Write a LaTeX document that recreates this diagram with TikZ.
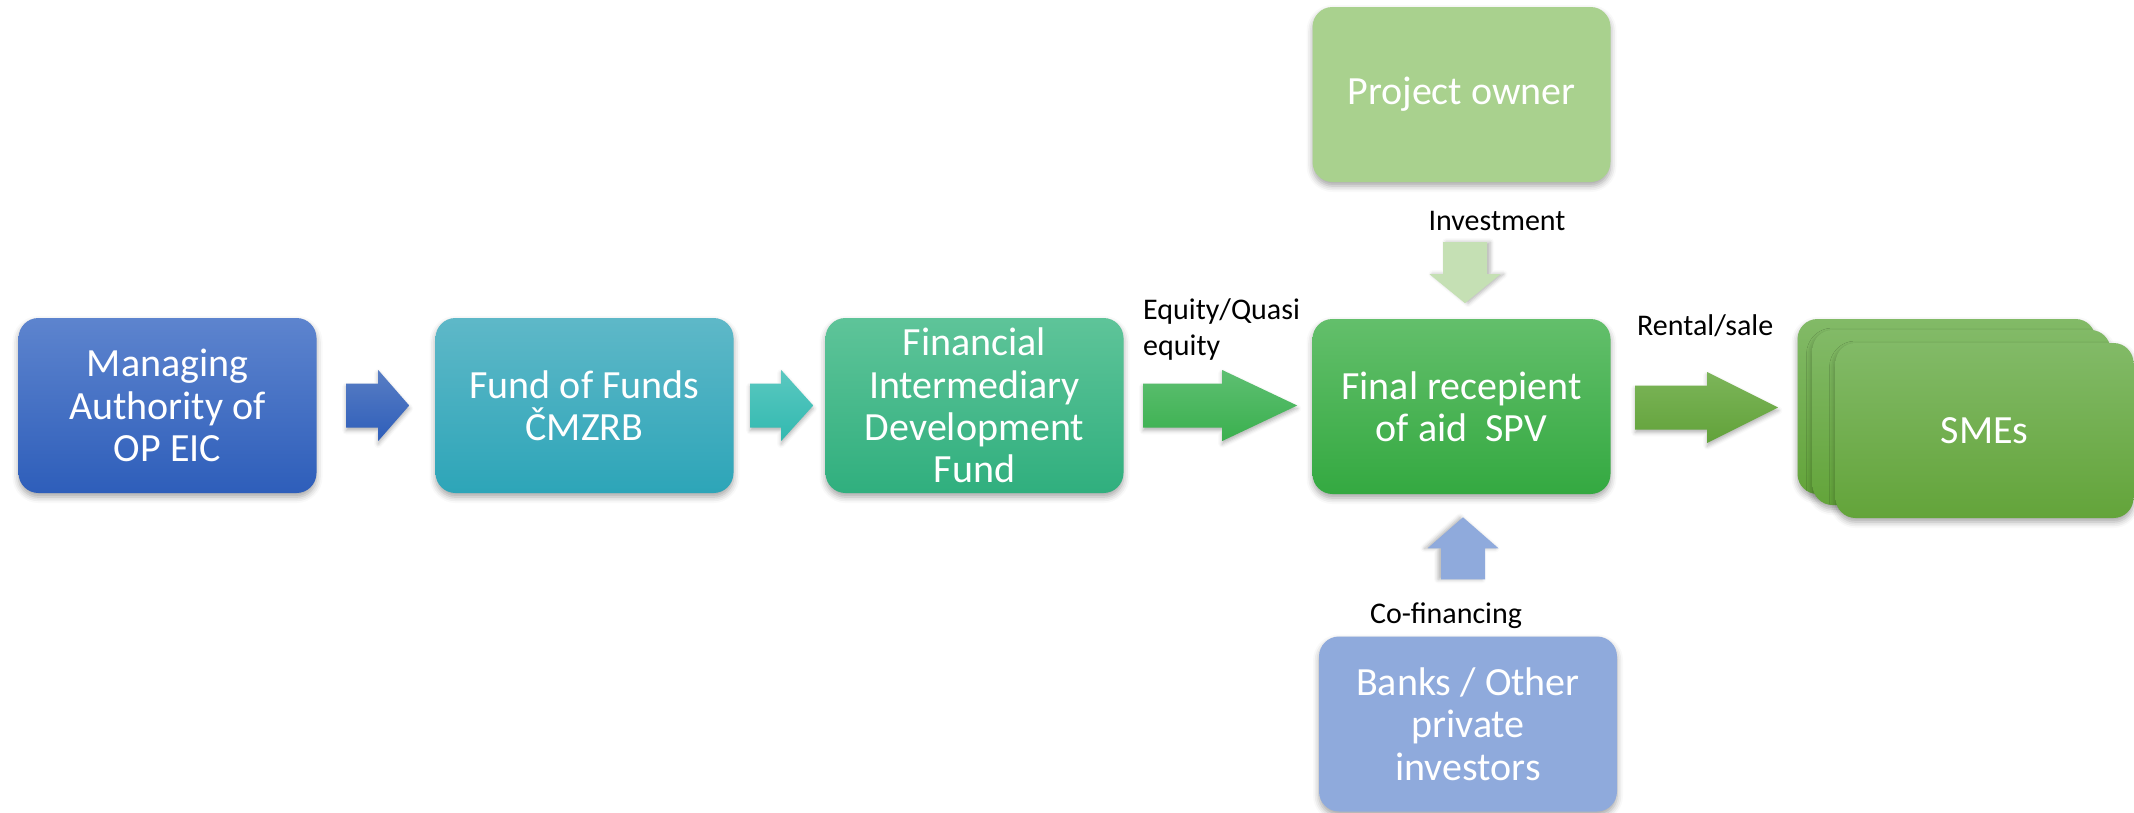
\documentclass[tikz,border=0pt]{standalone}
\usepackage{fontspec}
\setmainfont{Carlito}
\usetikzlibrary{calc,shadows.blur}

\definecolor{maoTop}{RGB}{93,132,206}
\definecolor{maoBot}{RGB}{46,94,186}
\definecolor{fofTop}{RGB}{94,184,200}
\definecolor{fofBot}{RGB}{45,165,184}
\definecolor{fidTop}{RGB}{94,196,153}
\definecolor{fidBot}{RGB}{48,175,126}
\definecolor{frTop}{RGB}{99,191,107}
\definecolor{frBot}{RGB}{52,169,65}
\definecolor{smeTop}{RGB}{130,186,103}
\definecolor{smeBot}{RGB}{99,164,58}
\definecolor{ownerFill}{RGB}{169,209,142}
\definecolor{investFill}{RGB}{197,224,180}
\definecolor{bankFill}{RGB}{143,170,220}
\definecolor{tealTop}{RGB}{90,200,192}
\definecolor{tealBot}{RGB}{50,185,176}
\definecolor{eqTop}{RGB}{94,191,114}
\definecolor{eqBot}{RGB}{58,176,78}
\definecolor{rentTop}{RGB}{124,181,89}
\definecolor{rentBot}{RGB}{98,162,58}

% Block arrow: style, tail point, direction, total length, head length.
\newcommand{\blockarrow}[5]{%
  \path[#1, shift={#2}, rotate=#3]
    (0,-22) -- ({#4-#5},-22) -- ({#4-#5},-35.5) -- (#4,0)
    -- ({#4-#5},35.5) -- ({#4-#5},22) -- (0,22) -- cycle;}

\begin{document}
\begin{tikzpicture}[x=1pt, y=-1pt,
  box/.style={rectangle, rounded corners=20pt, minimum width=298pt, minimum height=175pt,
    inner sep=0pt, align=center, text=white, font=\fontsize{40}{42.5}\selectfont,
    blur shadow={shadow xshift=0pt, shadow yshift=-4pt, shadow blur radius=6pt, shadow opacity=35}},
  hshadow/.style={blur shadow={shadow xshift=0pt, shadow yshift=-3pt, shadow blur radius=4pt, shadow opacity=30}},
  lbl/.style={inner sep=0pt, font=\fontsize{30}{36}\selectfont, align=left}]
  \useasboundingbox (0,0) rectangle (2134,812);

  % Chain of funds, left to right.
  \node[box, top color=maoTop, bottom color=maoBot] (mao) at (167.5,405.5) {Managing\\Authority of\\OP EIC};
  \node[box, top color=fofTop, bottom color=fofBot] (fof) at (584.5,405.5) {Fund of Funds\\ČMZRB};
  \node[box, top color=fidTop, bottom color=fidBot] (fidf) at (974.5,405.5) {Financial\\Intermediary\\Development\\Fund};
  \node[box, top color=frTop, bottom color=frBot] (frec) at (1461.5,406.5) {Final recepient\\of aid\ \ SPV};

  % Sources above and below the final recipient.
  \node[box, fill=ownerFill] (owner) at (1461.5,94.5) {Project owner};
  \node[box, fill=bankFill] (banks) at (1468,724) {Banks / Other\\private\\investors};

  % Stack of SMEs.
  \node[box, top color=smeTop, bottom color=smeBot] (sme1) at (1946.5,406.5) {};
  \node[box, top color=smeTop, bottom color=smeBot] (sme2) at (1961.5,417.5) {};
  \node[box, top color=smeTop, bottom color=smeBot] (sme3) at (1984.5,430.5) {SMEs};

  % Block arrows between the boxes.
  \blockarrow{hshadow, top color=maoTop!95!black, bottom color=maoBot}{([xshift=29.5pt]mao.east)}{0}{63}{31}
  \blockarrow{hshadow, top color=tealTop, bottom color=tealBot}{([xshift=16.5pt]fof.east)}{0}{63}{32}
  \blockarrow{hshadow, top color=eqTop, bottom color=eqBot}{([xshift=19.5pt]fidf.east)}{0}{154}{75}
  \blockarrow{hshadow, top color=rentTop, bottom color=rentBot}{([xshift=24.5pt,yshift=-1pt]frec.east)}{0}{143}{71}
  \blockarrow{fill=investFill, blur shadow={shadow xshift=3pt, shadow yshift=0pt, shadow blur radius=4pt, shadow opacity=30}}{([xshift=3.5pt,yshift=-60pt]owner.south)}{-90}{61}{29}
  \blockarrow{fill=bankFill, blur shadow={shadow xshift=-3pt, shadow yshift=0pt, shadow blur radius=4pt, shadow opacity=30}}{([xshift=-5pt,yshift=57pt]banks.north)}{90}{62}{31}

  % Flow labels.
  \node[lbl, anchor=south west] (leq) at (1143,361) {Equity/Quasi\\equity};
  \node[lbl, anchor=base] (linv) at (1497,230) {Investment};
  \node[lbl, anchor=base] (lcof) at (1446,623) {Co-financing};
  \node[lbl, anchor=base west] (lrent) at (1637,335) {Rental/sale};
\end{tikzpicture}
\end{document}
